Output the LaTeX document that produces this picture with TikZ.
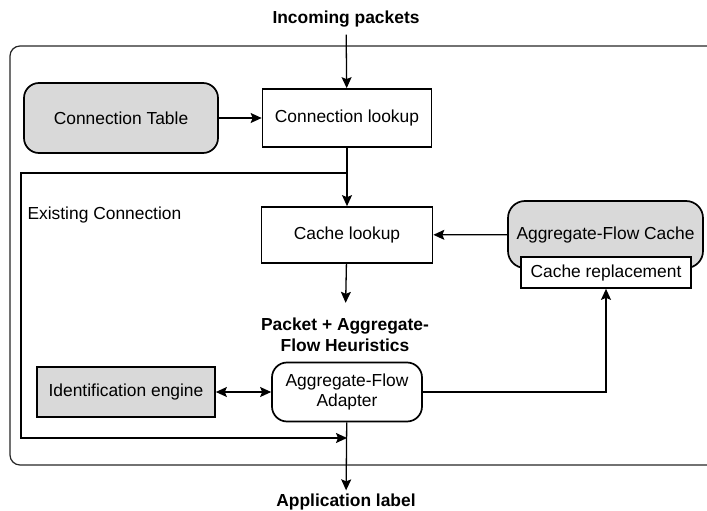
\documentclass[tikz,border=0pt]{standalone}
\usepackage{fontspec}
\setmainfont{Liberation Sans}
\usetikzlibrary{arrows.meta, positioning, calc}
\tikzstyle{procbox} = [rectangle, draw=black, line width=1.7pt, fill=white, text centered]
\tikzstyle{storebox} = [rectangle, rounded corners=15pt, draw=black, line width=1.7pt, fill=black!15, text centered]
\tikzstyle{enginebox} = [rectangle, draw=black, line width=1.7pt, fill=black!15, text centered]
\tikzstyle{adaptbox} = [rectangle, rounded corners=15pt, draw=black, line width=1.7pt, fill=white, align=center]
\tikzstyle{iolabel} = [font=\fontsize{17.4}{20.5}\selectfont\bfseries, align=center]
\tikzstyle{flow} = [line width=1.3pt, -{Stealth[length=11pt,width=10pt,inset=2pt]}]
\tikzstyle{biflow} = [line width=1.3pt, {Stealth[length=11pt,width=10pt,inset=2pt]}-{Stealth[length=11pt,width=10pt,inset=2pt]}]

\begin{document}
\begin{tikzpicture}[x=1pt, y=-1pt, font=\fontsize{17.4}{20.5}\selectfont]
\clip (0,0) rectangle (707,511);
% outer frame
\draw[line width=1.2pt, black!85, rounded corners=10pt] (10,46) rectangle (722,465);

\node (incoming) [iolabel] at (346,19) {Incoming packets};
\node (conntable) [storebox, minimum width=194pt, minimum height=70pt] at (121,118) {Connection Table};
\node (connlookup) [procbox, minimum width=169pt, minimum height=58pt] at (347,118) {Connection lookup};
\node (cachelookup) [procbox, minimum width=171pt, minimum height=56pt] at (347,235) {Cache lookup};
\node (afcache) [storebox, rounded corners=17pt, minimum width=195pt, minimum height=67pt] at (605.5,234.5) {Aggregate-Flow Cache};
\node (cacherepl) [procbox, minimum width=170pt, minimum height=31pt, inner sep=0pt] at (606,272.5) {Cache replacement};
\node (existing) [anchor=west] at (24,215) {Existing Connection};
\node (heur) [iolabel] at (345,335) {Packet + Aggregate-\\Flow Heuristics};
\node (ident) [enginebox, minimum width=178pt, minimum height=50pt] at (126,392) {Identification engine};
\node (adapter) [adaptbox, minimum width=150pt, minimum height=59pt, inner sep=2pt] at (347,392) {Aggregate-Flow\\Adapter};
\node (applabel) [iolabel] at (346,502) {Application label};

\coordinate (split) at (347,173);
\coordinate (merge) at (347,438);

% connectors
\draw[flow, shorten <=4pt] (incoming) -- (connlookup);
\draw[flow] (conntable) -- (connlookup);
\draw[flow] (connlookup) -- (cachelookup);
\draw[flow] (split) -| ++(-326,265) -- (merge);
\draw[flow] (afcache) -- (cachelookup);
\draw[flow, shorten >=12pt] (cachelookup) -- (heur);
\draw[biflow] (ident) -- (adapter);
\draw[flow] (adapter.east) -| (cacherepl.south);
\draw[flow] (adapter) -- (applabel);
\end{tikzpicture}
\end{document}
